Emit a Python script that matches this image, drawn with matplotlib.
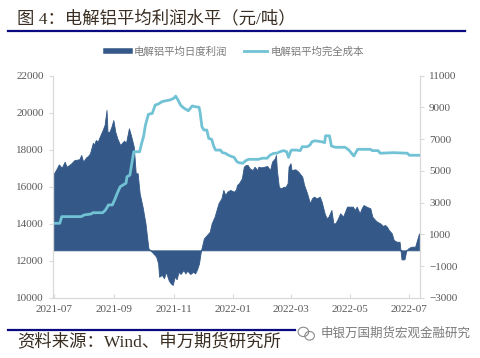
import pandas as pd
import matplotlib.pyplot as plt
import matplotlib.dates as mdates
from matplotlib.lines import Line2D
from matplotlib.patches import Ellipse

plt.rcParams['font.family'] = ['Liberation Serif', 'Noto Sans CJK SC']

# 电解铝平均日度利润 (right axis)
profit_dates = [
    '2021-07-01', '2021-07-03', '2021-07-06', '2021-07-09', '2021-07-12', '2021-07-14',
    '2021-07-18', '2021-07-22', '2021-07-27', '2021-07-29', '2021-07-31', '2021-08-03',
    '2021-08-05', '2021-08-07', '2021-08-10', '2021-08-11', '2021-08-13', '2021-08-15',
    '2021-08-17', '2021-08-20', '2021-08-22', '2021-08-24', '2021-08-25', '2021-08-27',
    '2021-08-29', '2021-08-31', '2021-09-02', '2021-09-04', '2021-09-07', '2021-09-11',
    '2021-09-13', '2021-09-16', '2021-09-18', '2021-09-21', '2021-09-23', '2021-09-25',
    '2021-09-27', '2021-09-30', '2021-10-03', '2021-10-06', '2021-10-08', '2021-10-11',
    '2021-10-14', '2021-10-16', '2021-10-17', '2021-10-20', '2021-10-22', '2021-10-24',
    '2021-10-27', '2021-10-29', '2021-10-31', '2021-11-02', '2021-11-04', '2021-11-06',
    '2021-11-08', '2021-11-11', '2021-11-13', '2021-11-15', '2021-11-18', '2021-11-21',
    '2021-11-23', '2021-11-25', '2021-11-27', '2021-11-29', '2021-11-30', '2021-12-02',
    '2021-12-05', '2021-12-08', '2021-12-10', '2021-12-13', '2021-12-15', '2021-12-17',
    '2021-12-20', '2021-12-22', '2021-12-24', '2021-12-26', '2021-12-29', '2022-01-02',
    '2022-01-04', '2022-01-05', '2022-01-07', '2022-01-10', '2022-01-12', '2022-01-14',
    '2022-01-16', '2022-01-18', '2022-01-21', '2022-01-23', '2022-01-26', '2022-01-27',
    '2022-01-30', '2022-02-02', '2022-02-05', '2022-02-08', '2022-02-10', '2022-02-13',
    '2022-02-14', '2022-02-15', '2022-02-17', '2022-02-19', '2022-02-22', '2022-02-24',
    '2022-02-26', '2022-02-27', '2022-03-01', '2022-03-02', '2022-03-06', '2022-03-09',
    '2022-03-13', '2022-03-15', '2022-03-18', '2022-03-21', '2022-03-23', '2022-03-25',
    '2022-03-28', '2022-03-31', '2022-04-02', '2022-04-05', '2022-04-07', '2022-04-09',
    '2022-04-12', '2022-04-14', '2022-04-16', '2022-04-18', '2022-04-21', '2022-04-24',
    '2022-04-26', '2022-04-28', '2022-05-01', '2022-05-04', '2022-05-06', '2022-05-08',
    '2022-05-11', '2022-05-13', '2022-05-15', '2022-05-18', '2022-05-22', '2022-05-24',
    '2022-05-27', '2022-05-29', '2022-06-01', '2022-06-04', '2022-06-06', '2022-06-08',
    '2022-06-10', '2022-06-13', '2022-06-15', '2022-06-18', '2022-06-21', '2022-06-22',
    '2022-06-23', '2022-06-26', '2022-06-28', '2022-06-30', '2022-07-03', '2022-07-07',
    '2022-07-09', '2022-07-11',
]
profit_values = [
    4850, 5050, 5410, 5200, 5580, 5260,
    5430, 5680, 5730, 6000, 5580, 5850,
    5940, 6100, 6770, 6630, 6940, 6840,
    7150, 7570, 7890, 8830, 7460, 7460,
    7780, 8200, 7460, 7050, 6630, 6900,
    6770, 7680, 7260, 6520, 4850, 4850,
    3590, 2750, 1700, 130, 0, -190,
    -400, -820, -1660, -1550, -1760, -1350,
    -1910, -2080, -2180, -1660, -1820, -1350,
    -1490, -1240, -1450, -1280, -1490, -1350,
    -1450, -1200, -820, 0, 230, 750,
    960, 1170, 1700, 2120, 2540, 2960,
    3270, 3800, 3480, 3690, 3800, 3690,
    3840, 4110, 4220, 4530, 5260, 5370,
    5370, 5160, 5050, 5260, 5050, 5260,
    5220, 5260, 5310, 5050, 5580, 5790,
    6000, 5050, 4000, 3900, 4000, 4000,
    4220, 5260, 5480, 5050, 5100, 4950,
    4640, 4110, 3590, 2960, 3270, 3380,
    3270, 3380, 3060, 2330, 2020, 2120,
    2540, 1700, 1700, 1910, 2330, 2120,
    2430, 2750, 2750, 2750, 2540, 2750,
    2330, 2640, 2850, 2750, 2640, 2120,
    1910, 1800, 1700, 1530, 1600, 1490,
    1280, 1070, 650, 540, 540, 0,
    -570, -570, 0, 130, 230, 230,
    650, 1070,
]

# 电解铝平均完全成本 (left axis)
cost_dates = [
    '2021-07-01', '2021-07-07', '2021-07-09', '2021-07-29', '2021-08-01', '2021-08-08',
    '2021-08-10', '2021-08-20', '2021-08-23', '2021-08-26', '2021-08-30', '2021-09-02',
    '2021-09-04', '2021-09-07', '2021-09-10', '2021-09-13', '2021-09-14', '2021-09-17',
    '2021-09-19', '2021-09-21', '2021-09-27', '2021-09-29', '2021-10-01', '2021-10-03',
    '2021-10-06', '2021-10-10', '2021-10-13', '2021-10-16', '2021-10-20', '2021-10-23',
    '2021-10-28', '2021-11-01', '2021-11-03', '2021-11-05', '2021-11-08', '2021-11-11',
    '2021-11-16', '2021-11-20', '2021-11-23', '2021-11-27', '2021-11-28', '2021-11-30',
    '2021-12-02', '2021-12-05', '2021-12-07', '2021-12-10', '2021-12-12', '2021-12-14',
    '2021-12-19', '2021-12-21', '2021-12-24', '2021-12-27', '2021-12-31', '2022-01-02',
    '2022-01-05', '2022-01-07', '2022-01-11', '2022-01-14', '2022-01-17', '2022-01-27',
    '2022-01-31', '2022-02-05', '2022-02-08', '2022-02-12', '2022-02-15', '2022-02-18',
    '2022-02-22', '2022-02-25', '2022-02-27', '2022-03-01', '2022-03-02', '2022-03-07',
    '2022-03-11', '2022-03-13', '2022-03-18', '2022-03-21', '2022-03-23', '2022-03-26',
    '2022-04-02', '2022-04-05', '2022-04-06', '2022-04-10', '2022-04-12', '2022-04-16',
    '2022-04-26', '2022-04-30', '2022-05-05', '2022-05-09', '2022-05-22', '2022-05-24',
    '2022-05-30', '2022-06-01', '2022-06-15', '2022-06-29', '2022-07-01', '2022-07-12',
]
cost_values = [
    14030, 14030, 14390, 14390, 14480, 14530,
    14600, 14600, 14750, 15020, 15020, 15380,
    15650, 16000, 16100, 16190, 16540, 16630,
    17270, 17890, 17890, 18340, 18700, 19330,
    19910, 19960, 20410, 20460, 20590, 20630,
    20680, 20770, 20890, 20720, 20410, 20260,
    20100, 20360, 20320, 20290, 20050, 19240,
    19060, 19060, 18610, 18560, 18200, 17980,
    17980, 17840, 17810, 17710, 17620, 17590,
    17350, 17300, 17270, 17410, 17480, 17480,
    17540, 17540, 17710, 17810, 17810, 17890,
    17950, 17890, 17590, 17890, 17980, 17980,
    17950, 18160, 18160, 18250, 18430, 18480,
    18430, 18380, 18750, 18750, 18200, 18130,
    18130, 17980, 17660, 18020, 18020, 17950,
    17950, 17810, 17840, 17810, 17700, 17700,
]

left_ticks = [10000, 12000, 14000, 16000, 18000, 20000, 22000]
right_ticks = [-3000, -1000, 1000, 3000, 5000, 7000, 9000, 11000]
month_ticks = ['2021-07-01', '2021-09-01', '2021-11-01', '2022-01-01',
               '2022-03-01', '2022-05-01', '2022-07-01']

AREA = '#345988'
LINE = '#72c2d5'
GRID = '#d9d9d9'
TXT = '#595959'
NAVY = '#0a0a80'

fig = plt.figure(figsize=(4.8, 3.58), dpi=100)
ax = fig.add_axes([0.1104, 0.1676, 0.7646, 0.6214])
ax2 = ax.twinx()

p_dates = pd.to_datetime(profit_dates)
c_dates = pd.to_datetime(cost_dates)

ax2.fill_between(p_dates, 0, profit_values, color=AREA, lw=0.6, edgecolor=AREA)
ax.plot(c_dates, cost_values, color=LINE, lw=2)

# cost line sits above the area
ax.set_zorder(ax2.get_zorder() + 1)
ax.patch.set_visible(False)

ax.set_ylim(10000, 22000)
ax.set_yticks(left_ticks)
ax2.set_ylim(-3000, 11000)
ax2.set_yticks(right_ticks)
ax.set_xlim(pd.Timestamp('2021-06-30'), pd.Timestamp('2022-07-12'))
ax.set_xticks(pd.to_datetime(month_ticks))
ax.xaxis.set_major_formatter(mdates.DateFormatter('%Y-%m'))

for a in (ax, ax2):
    for s in a.spines.values():
        s.set_color(GRID)
        s.set_linewidth(0.8)
    a.spines['top'].set_visible(False)
    a.tick_params(colors=GRID, labelcolor=TXT, labelsize=8, length=3, width=0.8)
ax.tick_params(axis='x', direction='in', pad=5)

handles = [Line2D([], [], color=AREA, lw=4), Line2D([], [], color=LINE, lw=2)]
fig.legend(handles, ['电解铝平均日度利润', '电解铝平均完全成本'], loc='center',
           bbox_to_anchor=(0.49, 0.855), ncol=2, frameon=False,
           labelcolor='#7a7a7a', handlelength=2.3, columnspacing=1.6, handletextpad=0.3,
           prop={'family': ['Noto Sans CJK SC'], 'size': 7.5, 'weight': 'light'})

# title and footer
fig.text(0.035, 0.948, '图 4：电解铝平均利润水平（元/吨）', fontsize=12.5, color='#3a2e22',
         va='center', weight='light', family=['Liberation Serif', 'Noto Sans CJK SC'])
fig.add_artist(Line2D([0.017, 0.968], [0.913, 0.913], color=NAVY, lw=1.6))
fig.add_artist(Line2D([0.017, 0.615], [0.077, 0.077], color=NAVY, lw=1.6))
fig.text(0.035, 0.045, '资料来源：Wind、申万期货研究所', fontsize=12.5, color='#3a2e22',
         va='center', weight='light', family=['Liberation Serif', 'Noto Sans CJK SC'])
fig.add_artist(Ellipse((0.632, 0.073), 0.022, 0.026, fill=False, ec='#8a8a8a', lw=0.8))
fig.add_artist(Ellipse((0.645, 0.062), 0.02, 0.024, fill=False, ec='#8a8a8a', lw=0.8))
fig.text(0.668, 0.068, '申银万国期货宏观金融研究', fontsize=9, color='#7a7a7a', va='center',
         family=['Noto Sans CJK SC'])

fig.savefig('out.png', dpi=100)
